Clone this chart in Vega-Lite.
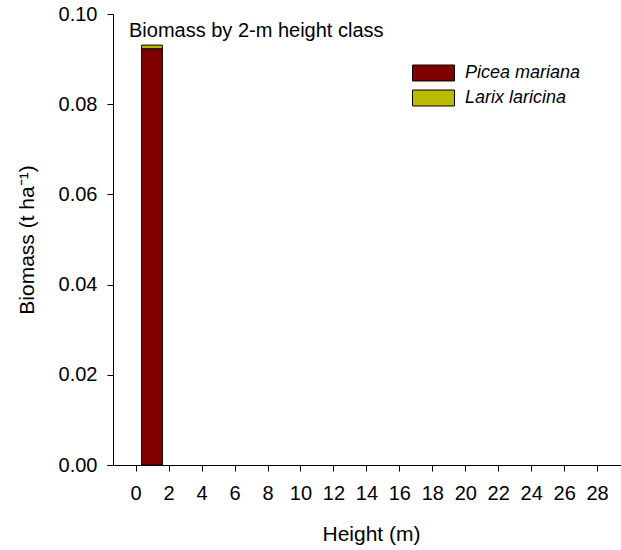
{
  "$schema": "https://vega.github.io/schema/vega-lite/v6.json",
  "width": 514,
  "height": 451,
  "autosize": {"type": "none"},
  "padding": {"left": 107, "top": 14, "right": 0, "bottom": 85},
  "background": "white",
  "config": {
    "view": {"stroke": null},
    "font": "Liberation Sans",
    "axis": {"domainColor": "black", "tickColor": "black", "labelColor": "black", "titleColor": "black", "grid": false, "titleFontWeight": "normal", "labelFont": "Liberation Sans", "titleFont": "Liberation Sans"}
  },
  "title": {
    "text": "Biomass by 2-m height class",
    "anchor": "start",
    "frame": "group",
    "fontSize": 20,
    "fontWeight": "normal",
    "color": "black",
    "baseline": "alphabetic",
    "offset": -53,
    "dx": 22
  },
  "data": {
    "values": [
      {"start": 0.36, "end": 1.62, "species": "Picea mariana", "order": 1, "biomass": 0.0923},
      {"start": 0.36, "end": 1.62, "species": "Larix laricina", "order": 2, "biomass": 0.0008}
    ]
  },
  "transform": [
    {"stack": "biomass", "groupby": ["start"], "sort": [{"field": "order"}], "as": ["y0", "y1"]}
  ],
  "mark": {"type": "bar", "stroke": "black", "strokeWidth": 1},
  "encoding": {
    "x": {
      "field": "start", "type": "quantitative",
      "scale": {"domain": [-1.74, 29.45], "nice": false, "zero": false},
      "axis": {"title": "Height (m)", "values": [0,2,4,6,8,10,12,14,16,18,20,22,24,26,28], "labelFontSize": 20, "titleFontSize": 21, "tickSize": 6, "labelPadding": 12, "titlePadding": 20, "titleX": 264, "labelFlush": false, "labelOverlap": false}
    },
    "x2": {"field": "end"},
    "y": {
      "field": "y0", "type": "quantitative",
      "scale": {"domain": [0, 0.1], "nice": false},
      "axis": {"title": "Biomass (t ha⁻¹)", "values": [0, 0.02, 0.04, 0.06, 0.08, 0.1], "format": ".2f", "labelFontSize": 20, "titleFontSize": 21, "tickSize": 6, "labelPadding": 10, "titlePadding": 21, "labelFlush": false, "offset": -6}
    },
    "y2": {"field": "y1"},
    "color": {
      "field": "species", "type": "nominal",
      "scale": {"domain": ["Picea mariana", "Larix laricina"], "range": ["#800000", "#BABA00"]},
      "legend": {
        "title": null,
        "orient": "none",
        "legendX": 305,
        "legendY": 50,
        "symbolType": "M-1,-0.38H1V0.38H-1Z",
        "symbolSize": 1764,
        "symbolStrokeColor": "black",
        "symbolStrokeWidth": 1,
        "symbolOpacity": 1,
        "labelFontSize": 18,
        "labelFontStyle": "italic",
        "labelColor": "black",
        "labelOffset": 10,
        "clipHeight": 18,
        "rowPadding": 7
      }
    }
  }
}
